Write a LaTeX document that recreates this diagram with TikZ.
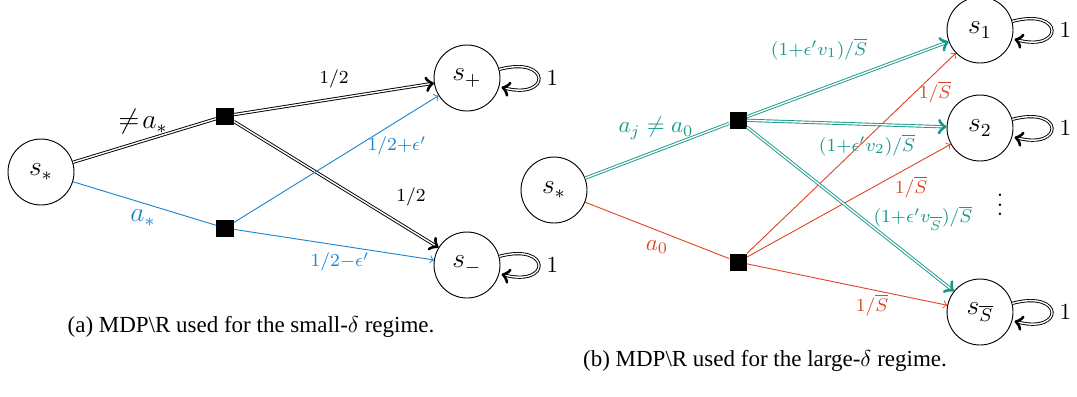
\documentclass[tikz,border=0pt]{standalone}
\usepackage{fontspec}
\newfontfamily\capfont{Liberation Serif}
\usetikzlibrary{arrows.meta}
\definecolor{actblue}{RGB}{27,133,206}
\definecolor{actteal}{RGB}{23,153,138}
\definecolor{actred}{RGB}{224,70,38}
\begin{document}
\begin{tikzpicture}[x=0.435pt,y=0.435pt,>=to,
  state/.style={circle,draw,minimum size=28.7pt,inner sep=0pt,font=\large},
  chance/.style={fill=black,minimum size=7.4pt,inner sep=0pt},
  lbl/.style={inner sep=1pt,font=\footnotesize},
  biglbl/.style={inner sep=1pt,font=\normalsize},
  selfloop/.style={double,->,loop right},
  caption/.style={font=\capfont\normalsize,inner sep=0pt}]
\useasboundingbox (0,0) rectangle (1077,396);

% ---------- (a) small-delta MDP ----------
\node[state] (sa) at (41,224) {$s_*$};
\node[chance] (ta) at (225,280) {};
\node[chance] (ba) at (225,168) {};
\node[state] (sp) at (467,318) {$s_+$};
\node[state] (sm) at (467,131) {$s_-$};

\draw[double] (sa) -- (ta);
\draw[actblue] (sa) -- (ba);
\draw[double,->] (ta) -- (sp);
\draw[double,->] (ta) -- (sm);
\draw[actblue,->] (ba) -- (sp);
\draw[actblue,->] (ba) -- (sm);
\path (sp) edge[selfloop] node[right,font=\normalsize] (lp) {$1$} (sp);
\path (sm) edge[selfloop] node[right,font=\normalsize] (lm) {$1$} (sm);

\node[biglbl,font=\large] (lneq) at (143,274) {$\neq\! a_*$};
\node[biglbl,font=\large,text=actblue] (lstar) at (143,178) {$a_*$};
\node[lbl] (lhalfp) at (334,317) {$1/2$};
\node[lbl] (lhalfm) at (411,199) {$1/2$};
\node[lbl,text=actblue] (lplus) at (397,250) {$1/2{+}\epsilon'$};
\node[lbl,text=actblue] (lminus) at (340,134) {$1/2{-}\epsilon'$};

\node[caption] (capa) at (251,69) {(a) MDP\textbackslash R used for the small-$\delta$ regime.};

% ---------- (b) large-delta MDP ----------
\node[state] (sb) at (554,206) {$s_*$};
\node[chance] (tb) at (738,276) {};
\node[chance] (bb) at (738,134) {};
\node[state] (s1) at (980,366) {$s_1$};
\node[state] (s2) at (980,268) {$s_2$};
\node[state] (sS) at (980,84) {$s_{\overline{S}}$};
\node[inner sep=0pt] (dots) at (1000,198) {$\vdots$};

\draw[actteal,double] (sb) -- (tb);
\draw[actred] (sb) -- (bb);
\draw[actred,->] (bb) -- (s1);
\draw[actred,->] (bb) -- (s2);
\draw[actred,->] (bb) -- (sS);
\draw[actteal,double,->] (tb) -- (s1);
\draw[actteal,double,->] (tb) -- (s2);
\draw[actteal,double,->] (tb) -- (sS);
\path (s1) edge[selfloop] node[right,font=\normalsize] (l1) {$1$} (s1);
\path (s2) edge[selfloop] node[right,font=\normalsize] (l2) {$1$} (s2);
\path (sS) edge[selfloop] node[right,font=\normalsize] (lS) {$1$} (sS);

\node[biglbl,text=actteal] (laj) at (656,268) {$a_j \neq a_0$};
\node[biglbl,text=actred] (la0) at (657,149) {$a_0$};
\node[lbl,text=actteal] (lv1) at (819,347) {$(1{+}\epsilon' v_1)/\overline{S}$};
\node[lbl,text=actteal] (lv2) at (867,251) {$(1{+}\epsilon' v_2)/\overline{S}$};
\node[lbl,text=actteal] (lvS) at (923,178) {$(1{+}\epsilon' v_{\overline{S}})/\overline{S}$};
\node[lbl,text=actred] (lr1) at (935,304) {$1/\overline{S}$};
\node[lbl,text=actred] (lr2) at (911,209) {$1/\overline{S}$};
\node[lbl,text=actred] (lrS) at (872,91) {$1/\overline{S}$};

\node[caption] (capb) at (765,35) {(b) MDP\textbackslash R used for the large-$\delta$ regime.};
\end{tikzpicture}
\end{document}
